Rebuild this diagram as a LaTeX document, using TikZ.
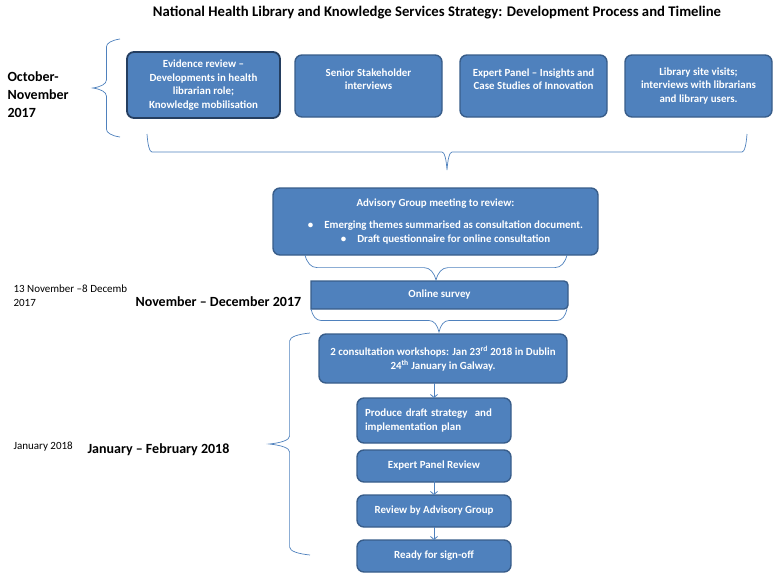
\documentclass[tikz,border=0pt]{standalone}
\usepackage{fontspec}
\setmainfont{Carlito}
\usepackage{tikz}
\usetikzlibrary{arrows.meta, positioning, decorations.pathreplacing, backgrounds}

\definecolor{officeblue}{RGB}{79,129,189}
\definecolor{officeline}{RGB}{56,93,138}
\definecolor{officedark}{RGB}{36,62,96}

\begin{document}
\begin{tikzpicture}[x=1pt, y=-1pt,
	stagebox/.style={draw=officeline, line width=1.4pt, fill=officeblue, rounded corners=7pt, outer sep=0pt,
		text=white, font=\fontsize{10.9}{13.5}\selectfont\bfseries, align=center, inner sep=2pt},
	curly/.style 2 args={draw=officeblue, line width=0.7pt, decorate,
		decoration={brace, amplitude=#1, transform={yscale=#2}}},
	flow/.style={draw=officeblue, line width=0.8pt, -{Straight Barb[length=3pt, width=7pt]}},
	period/.style={font=\fontsize{14}{18}\selectfont\bfseries, align=left, anchor=west},
	dates/.style={font=\fontsize{11}{14}\selectfont, align=left, anchor=west}]
	\useasboundingbox (0,0) rectangle (774,574);

	\node[font=\fontsize{14.7}{17}\selectfont\bfseries] (title) at (437,13)
		{National Health Library and Knowledge Services Strategy: Development Process and Timeline};

	% time periods
	\node[period] (octnov) at (4,95) {October-\\November\\2017};
	\node[dates] (novdates) at (10,296) {13 November –8 Decemb\\2017};
	\node[period] (novdec) at (132,302) {November – December 2017};
	\node[dates] (jandates) at (10,447) {January 2018};
	\node[period] (janfeb) at (84,450) {January – February 2018};

	% first round
	\node[stagebox, draw=officedark, line width=1.8pt, minimum width=153pt, minimum height=66pt] (evidence) at (203.5,85)
		{Evidence review –\\Developments in health\\librarian role;\\Knowledge mobilisation};
	\node[stagebox, minimum width=147pt, minimum height=62pt, text depth=14pt] (senior) at (368.5,86) {Senior Stakeholder\\interviews};
	\node[stagebox, minimum width=147pt, minimum height=62pt, text depth=14pt] (panel) at (533.5,86) {Expert Panel – Insights and\\Case Studies of Innovation};
	\node[stagebox, minimum width=147pt, minimum height=62pt] (visits) at (698.5,86) {Library site visits;\\interviews with librarians\\and library users.};

	\node[stagebox, minimum width=325pt, minimum height=67pt] (advisory) at (435.5,221.5)
		{Advisory Group meeting to review:\\[9pt]
		\hspace*{20pt}\textbullet\hspace{11pt}Emerging themes summarised as consultation document.\\
		\hspace*{20pt}\textbullet\hspace{11pt}Draft questionnaire for online consultation};
	\node[stagebox, draw=none, fill=none, minimum width=257pt, minimum height=28pt] (survey) at (439.5,295) {Online survey};
	\begin{scope}[on background layer]
		\path[draw=officeline, line width=1.4pt, fill=officeblue] (survey.south west) -- (survey.north west)
			-- ([xshift=-4pt]survey.north east) arc[start angle=90, end angle=0, radius=4pt]
			-- ([yshift=4pt]survey.south east) arc[start angle=0, end angle=-90, radius=4pt] -- cycle;
	\end{scope}
	\node[stagebox, minimum width=248pt, minimum height=49pt] (workshops) at (443,358.5)
		{2 consultation workshops: Jan 23\textsuperscript{rd} 2018 in Dublin\\24\textsuperscript{th} January in Galway.};

	\node[stagebox, minimum width=154pt, minimum height=45pt, text width=138pt, align=left, inner xsep=8pt] (produce) at (434,420.5)
		{Produce draft strategy \ and\\implementation plan};
	\node[stagebox, minimum width=154pt, minimum height=32pt, below=7pt of produce] (review) {Expert Panel Review};
	\node[stagebox, minimum width=154pt, minimum height=32pt, below=13pt of review] (advreview) {Review by Advisory Group};
	\node[stagebox, minimum width=154pt, minimum height=32pt, below=13pt of advreview] (signoff) {Ready for sign-off};

	\draw[flow] (workshops.south -| produce.north) -- (produce.north);
	\draw[flow] ([yshift=7pt]review.south) -- (advreview.north);
	\draw[flow] (advreview.south) -- (signoff.north);

	% braces
	\draw[curly={8pt}{3.4}] (120,137) -- (120,39);
	\draw[curly={5pt}{7.2}] (747,134) -- (147,134);
	\draw[curly={12pt}{2.1}] (567,255) -- (305,255);
	\draw[curly={10pt}{2.3}] (567,309) -- (311,309);
	\draw[curly={8pt}{5.1}] (310,555) -- (310,333);
\end{tikzpicture}
\end{document}
